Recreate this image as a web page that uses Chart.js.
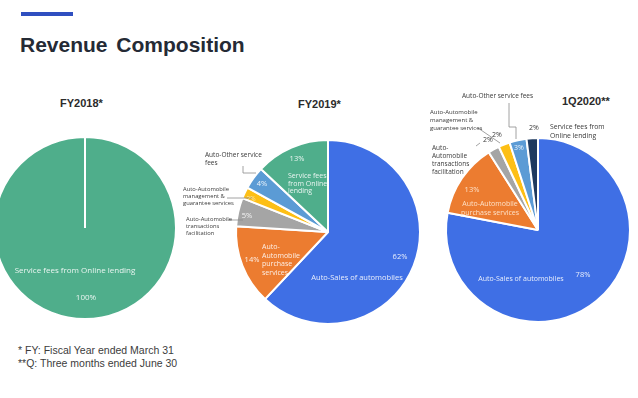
<!DOCTYPE html>
<html>
<head>
<meta charset="utf-8">
<script src="https://cdn.jsdelivr.net/npm/chart.js@4/dist/chart.umd.min.js"></script>
<style>
  html, body { margin:0; padding:0; width:638px; height:398px; overflow:hidden; background:#ffffff; }
  body { position:relative; font-family:"Liberation Sans", Arial, sans-serif; }
  canvas { position:absolute; left:-20px; top:0; }
  .bar { position:absolute; left:21px; top:12px; width:52px; height:4px; background:#2f4fc0; }
  .title { position:absolute; left:20px; top:33px; font-size:21px; font-weight:bold; color:#252a35; white-space:nowrap; word-spacing:3px; }
  .ptitle { position:absolute; font-size:11px; font-weight:bold; color:#2b2b2b; white-space:nowrap; }
  .note { position:absolute; left:18px; font-size:10.5px; color:#3c3c3c; white-space:nowrap; }
</style>
</head>
<body>
<div class="bar"></div>
<div class="title">Revenue Composition</div>
<div class="ptitle" style="left:60px;top:97px;">FY2018*</div>
<div class="ptitle" style="left:298px;top:98px;">FY2019*</div>
<div class="ptitle" style="left:562px;top:95px;">1Q2020**</div>
<div class="note" style="top:344px;">* FY: Fiscal Year ended March 31</div>
<div class="note" style="top:357px;">**Q: Three months ended June 30</div>

<canvas id="c2018" width="678" height="398"></canvas>
<canvas id="c2019" width="678" height="398"></canvas>
<canvas id="c2020" width="678" height="398"></canvas>

<script>
// ---------- DATA ----------
const categories = [
  'Auto-Sales of automobiles',
  'Auto-Automobile purchase services',
  'Auto-Automobile transactions facilitation',
  'Auto-Automobile management & guarantee services',
  'Auto-Other service fees',
  'Service fees from Online lending'
];
const periods = ['FY2018*', 'FY2019*', '1Q2020**'];
const valuesFY2018 = [0, 0, 0, 0, 0, 100];
const valuesFY2019 = [62, 14, 5, 2, 4, 13];
const values1Q2020 = [78, 13, 2, 2, 3, 2];

// ---------- STYLE / LAYOUT ----------
const sliceColors = ['#3f6fe5', '#ec7c30', '#a5a5a5', '#fdbf16', '#5b9bd5', '#4fae8b'];
const sliceColors2020 = ['#3f6fe5', '#ec7c30', '#a5a5a5', '#fdbf16', '#5b9bd5', '#1f3a5f'];
const CANVAS_SHIFT = 20; // canvases sit at left:-20px
const W = 678, H = 398;

const IN = 'rgba(255,255,255,0.88)';
const OUT = '#3a3a3a';

// label layout: offsets relative to pie centre
const layout2018 = {
  cx: 85, cy: 228, r: 91,
  texts: [
    {idx:5, kind:'name', lines:['Service fees from Online lending'], dx:-10, dy:43, align:'center', color:IN, size:8},
    {idx:5, kind:'pct', dx:1, dy:70, align:'center', color:IN, size:8}
  ],
  leaders: [],
  topLine: true
};
const layout2019 = {
  cx: 328, cy: 232, r: 92,
  texts: [
    {idx:0, kind:'name', lines:['Auto-Sales of automobiles'], dx:29, dy:46, align:'center', color:IN, size:7.5},
    {idx:0, kind:'pct', dx:72, dy:25, align:'center', color:IN, size:7.5},
    {idx:1, kind:'name', lines:['Auto-','Automobile','purchase','services'], dx:-66, dy:15, lh:8.6, align:'left', color:IN, size:7},
    {idx:1, kind:'pct', dx:-76, dy:28, align:'center', color:IN, size:7.5},
    {idx:2, kind:'pct', dx:-81, dy:-16, align:'center', color:IN, size:7.5},
    {idx:2, kind:'name', lines:['Auto-Automobile','transactions','facilitation'], dx:-142, dy:-13, lh:7.2, align:'left', color:OUT, size:5.8},
    {idx:3, kind:'pct', dx:-77, dy:-33, align:'center', color:'rgba(255,255,255,0.6)', size:6.5},
    {idx:3, kind:'name', lines:['Auto-Automobile','management &','guarantee services'], dx:-145, dy:-43, lh:7.4, align:'left', color:OUT, size:5.8},
    {idx:4, kind:'pct', dx:-66, dy:-48, align:'center', color:IN, size:7.5},
    {idx:4, kind:'name', lines:['Auto-Other service','fees'], dx:-123, dy:-77, lh:8, align:'left', color:OUT, size:6.5},
    {idx:5, kind:'pct', dx:-31, dy:-73, align:'center', color:IN, size:7.5},
    {idx:5, kind:'name', lines:['Service fees','from Online','lending'], dx:-40, dy:-56, lh:7.5, align:'left', color:IN, size:7}
  ],
  leaders: [
    [[-100,-12],[-85,-12]],
    [[-101,-34],[-76,-34]],
    [[-85,-66],[-85,-59],[-72,-59]]
  ]
};
const layout2020 = {
  cx: 538, cy: 230, r: 92,
  texts: [
    {idx:0, kind:'name', lines:['Auto-Sales of automobiles'], dx:-17, dy:49, align:'center', color:IN, size:7},
    {idx:0, kind:'pct', dx:45, dy:45, align:'center', color:IN, size:7.5},
    {idx:1, kind:'pct', dx:-66, dy:-40, align:'center', color:'rgba(255,235,215,0.9)', size:7.5},
    {idx:1, kind:'name', lines:['Auto-Automobile','purchase services'], dx:-48, dy:-26, lh:8.5, align:'center', color:'rgba(255,235,215,0.9)', size:7},
    {idx:2, kind:'pct', dx:-50, dy:-90, align:'center', color:OUT, size:7},
    {idx:2, kind:'name', lines:['Auto-','Automobile','transactions','facilitation'], dx:-106, dy:-82, lh:8.2, align:'left', color:OUT, size:6.5},
    {idx:3, kind:'pct', dx:-41, dy:-95, align:'center', color:OUT, size:7},
    {idx:3, kind:'name', lines:['Auto-Automobile','management &','guarantee services'], dx:-108, dy:-118, lh:8, align:'left', color:OUT, size:6},
    {idx:4, kind:'pct', dx:-19, dy:-82, align:'center', color:IN, size:7},
    {idx:4, kind:'name', lines:['Auto-Other service fees'], dx:-76, dy:-134, align:'left', color:OUT, size:6.5},
    {idx:5, kind:'pct', dx:-4, dy:-102, align:'center', color:OUT, size:7},
    {idx:5, kind:'name', lines:['Service fees from','Online lending'], dx:12, dy:-103, lh:9, align:'left', color:OUT, size:6.8}
  ],
  leaders: [
    [[-29,-127],[-29,-103],[-22,-103],[-22,-91]],
    [[-60,-102],[-38,-87]],
    [[-62,-84],[-58,-87]]
  ]
};

const sliceLabelPlugin = {
  id: 'sliceLabels',
  afterDraw(chart, args, opts) {
    const meta = chart.getDatasetMeta(0);
    const arc = meta.data[meta.data.length - 1];
    const cx = arc.x, cy = arc.y;
    const values = chart.data.datasets[0].data;
    const ctx = chart.ctx;
    ctx.save();
    if (opts.topLine) {
      ctx.strokeStyle = '#ffffff';
      ctx.lineWidth = 2;
      ctx.beginPath();
      ctx.moveTo(cx, cy);
      ctx.lineTo(cx, cy - arc.outerRadius);
      ctx.stroke();
    }
    ctx.strokeStyle = '#8a8a8a';
    ctx.lineWidth = 0.8;
    (opts.leaders || []).forEach(pts => {
      ctx.beginPath();
      pts.forEach((p, i) => {
        if (i === 0) ctx.moveTo(cx + p[0], cy + p[1]); else ctx.lineTo(cx + p[0], cy + p[1]);
      });
      ctx.stroke();
    });
    ctx.textBaseline = 'middle';
    (opts.texts || []).forEach(t => {
      ctx.fillStyle = t.color;
      ctx.font = t.size + 'px "Open Sans", "Noto Sans", sans-serif';
      ctx.textAlign = t.align;
      const lines = t.kind === 'pct' ? [values[t.idx] + '%'] : t.lines;
      lines.forEach((ln, i) => {
        ctx.fillText(ln, cx + t.dx, cy + t.dy + i * (t.lh || 9));
      });
    });
    ctx.restore();
  }
};

function makePie(id, values, colors, lay) {
  const cxC = lay.cx + CANVAS_SHIFT;
  const size = 2 * lay.r + 2;
  const left = cxC - lay.r - 1, top = lay.cy - lay.r - 1;
  return new Chart(document.getElementById(id), {
    type: 'pie',
    data: {
      labels: categories,
      datasets: [{
        data: values,
        backgroundColor: colors,
        borderColor: '#ffffff',
        borderWidth: 2,
        hoverOffset: 0
      }]
    },
    options: {
      responsive: false,
      animation: false,
      devicePixelRatio: 1,
      layout: { padding: { left: left, top: top, right: W - left - size, bottom: H - top - size } },
      plugins: {
        legend: { display: false },
        tooltip: { enabled: false },
        sliceLabels: { texts: lay.texts, leaders: lay.leaders, topLine: !!lay.topLine }
      }
    },
    plugins: [sliceLabelPlugin]
  });
}

makePie('c2018', valuesFY2018, sliceColors, layout2018);
makePie('c2019', valuesFY2019, sliceColors, layout2019);
makePie('c2020', values1Q2020, sliceColors2020, layout2020);
</script>
</body>
</html>
